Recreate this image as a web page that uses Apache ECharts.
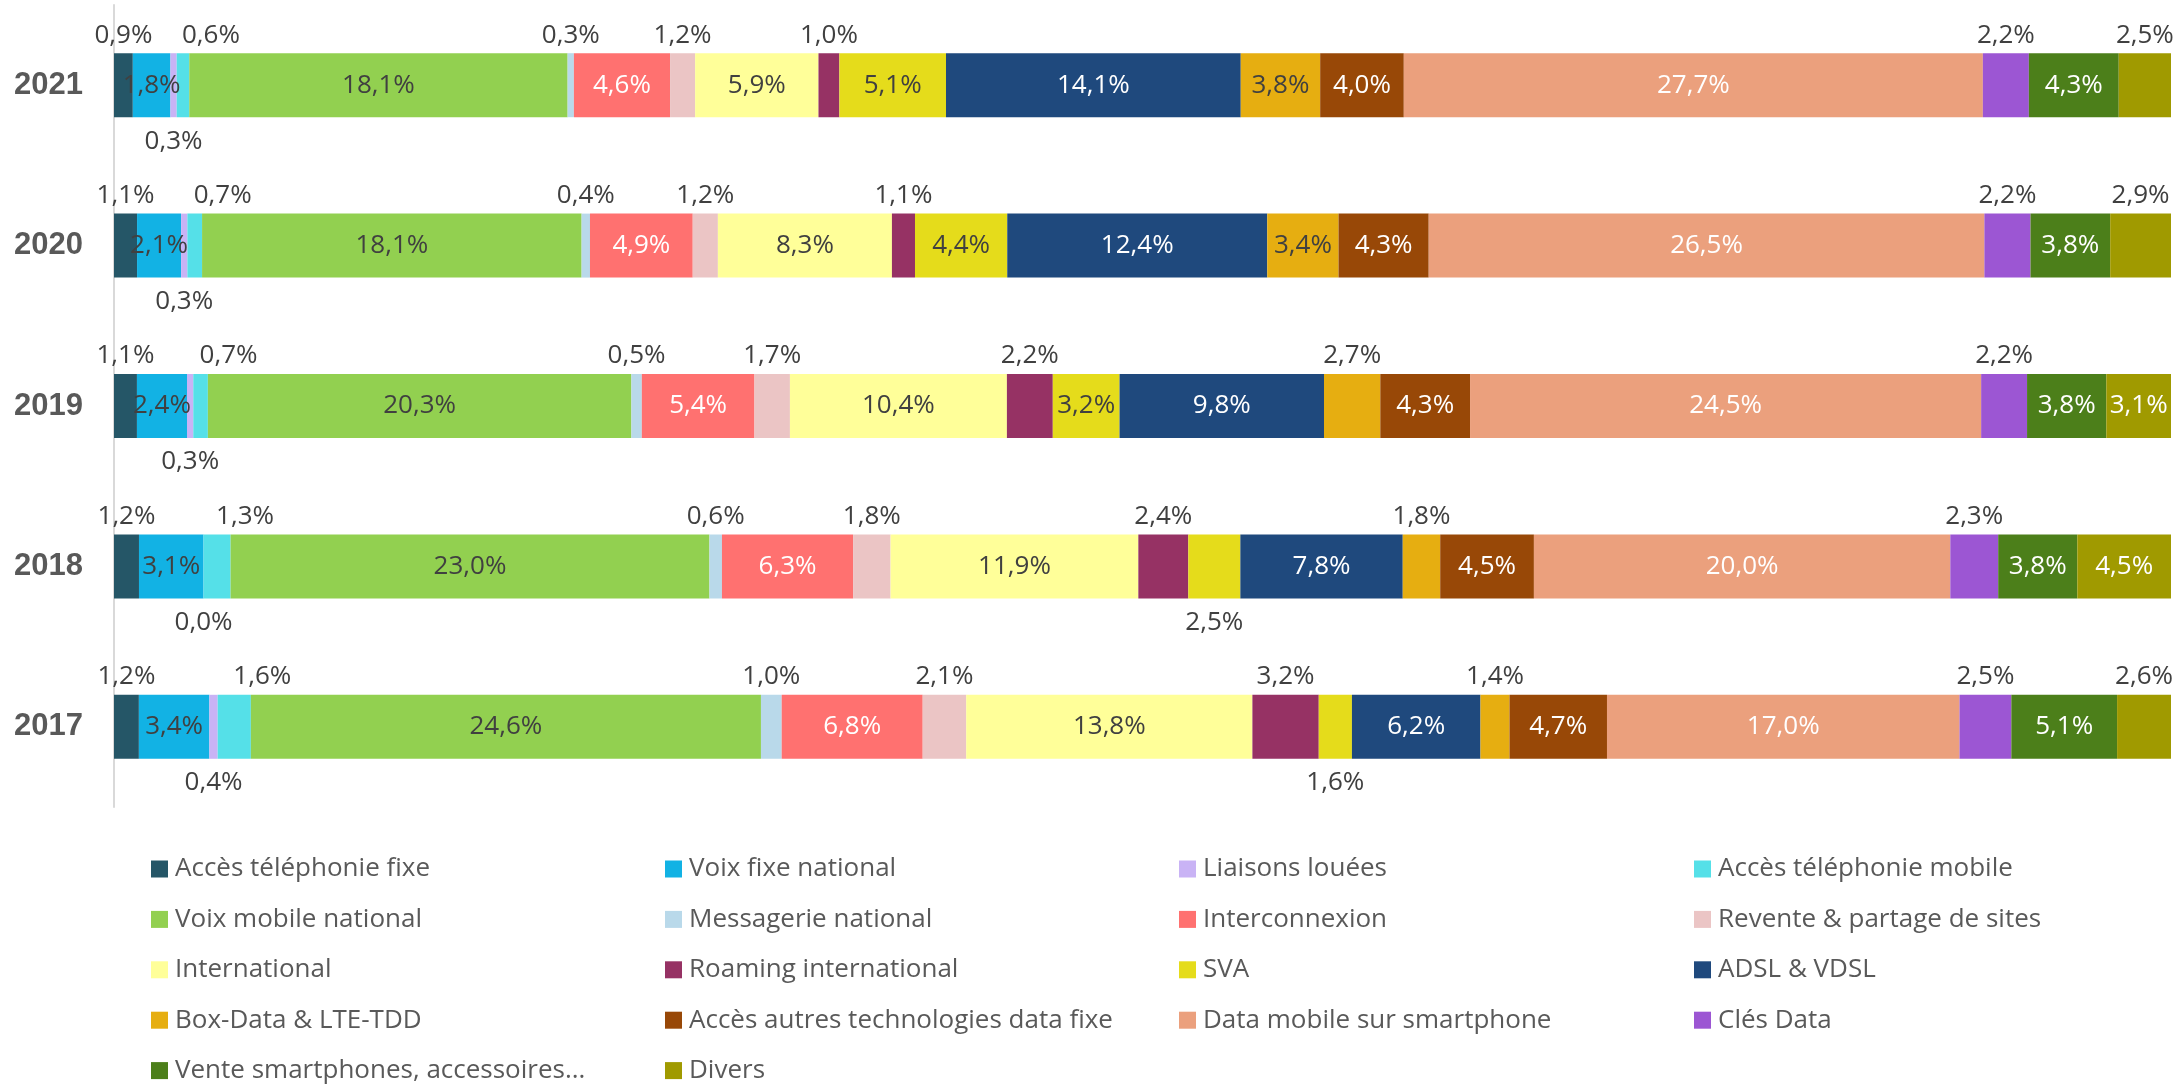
<!DOCTYPE html>
<html>
<head>
<meta charset="utf-8">
<script src="https://cdn.jsdelivr.net/npm/echarts@6/dist/echarts.min.js"></script>
<style>
  html, body { margin: 0; padding: 0; background: #fff; }
  #chart { width: 2179px; height: 1084px; }
</style>
</head>
<body>
<div id="chart"></div>
<script>
// années (de haut en bas)
var years = ['2021', '2020', '2019', '2018', '2017'];

var seriesNames = [
  'Accès téléphonie fixe', 'Voix fixe national', 'Liaisons louées', 'Accès téléphonie mobile',
  'Voix mobile national', 'Messagerie national', 'Interconnexion', 'Revente & partage de sites',
  'International', 'Roaming international', 'SVA', 'ADSL & VDSL',
  'Box-Data & LTE-TDD', 'Accès autres technologies data fixe', 'Data mobile sur smartphone', 'Clés Data',
  'Vente smartphones, accessoires...', 'Divers'
];

// parts en %, dans l'ordre des séries
var v2021 = [0.9, 1.8, 0.3, 0.6, 18.1, 0.3, 4.6, 1.2, 5.9, 1.0, 5.1, 14.1, 3.8, 4.0, 27.7, 2.2, 4.3, 2.5];
var v2020 = [1.1, 2.1, 0.3, 0.7, 18.1, 0.4, 4.9, 1.2, 8.3, 1.1, 4.4, 12.4, 3.4, 4.3, 26.5, 2.2, 3.8, 2.9];
var v2019 = [1.1, 2.4, 0.3, 0.7, 20.3, 0.5, 5.4, 1.7, 10.4, 2.2, 3.2, 9.8, 2.7, 4.3, 24.5, 2.2, 3.8, 3.1];
var v2018 = [1.2, 3.1, 0.0, 1.3, 23.0, 0.6, 6.3, 1.8, 11.9, 2.4, 2.5, 7.8, 1.8, 4.5, 20.0, 2.3, 3.8, 4.5];
var v2017 = [1.2, 3.4, 0.4, 1.6, 24.6, 1.0, 6.8, 2.1, 13.8, 3.2, 1.6, 6.2, 1.4, 4.7, 17.0, 2.5, 5.1, 2.6];
var valuesByYear = [v2021, v2020, v2019, v2018, v2017];

var colors = [
  '#255667', '#12B2E4', '#C9B3F5', '#55E0E8', '#92D050', '#B9D9EA', '#FF7170', '#EBC5C5',
  '#FFFF99', '#963264', '#E5DC1B', '#1F497D', '#E6AE11', '#984807', '#EBA07D', '#9C56D3',
  '#4C7F1A', '#A09A00'
];

// placement des étiquettes : côté hors barre + seuil pour passer à l'intérieur
var labelSide = ['top', 'in', 'bottom', 'top', 'in', 'top', 'in', 'top', 'in', 'top', 'bottom', 'in', 'top', 'in', 'in', 'top', 'in', 'top'];
var insideMin = [99, 0, 99, 99, 0, 99, 0, 99, 0, 99, 3, 0, 3, 0, 0, 99, 0, 3];
var whiteText = [false, false, false, false, false, false, true, false, false, false, false, true, false, true, true, false, true, true];
var labelShift = [0, 0, 0, 28, 0, 0, 0, 0, 0, 0, 0, 0, 0, 0, 0, 0, 0, 0];

var FONT = '"Open Sans", "Noto Sans", sans-serif';

var totals = valuesByYear.map(function (arr) {
  return arr.reduce(function (a, b) { return a + b; }, 0);
});

var series = seriesNames.map(function (name, s) {
  return {
    name: name,
    type: 'bar',
    stack: 'total',
    barWidth: 64,
    itemStyle: { color: colors[s] },
    emphasis: { disabled: true },
    data: valuesByYear.map(function (arr, y) {
      var raw = arr[s];
      var inside = labelSide[s] === 'in' || raw >= insideMin[s];
      return {
        value: raw / totals[y] * 100,
        raw: raw,
        label: {
          show: true,
          position: inside ? 'inside' : labelSide[s],
          distance: labelSide[s] === 'bottom' ? 11 : 5,
          offset: inside ? [0, 0] : [labelShift[s], 0],
          color: inside && whiteText[s] ? '#ffffff' : '#404040'
        }
      };
    }),
    label: {
      show: true,
      fontFamily: FONT,
      fontSize: 26,
      formatter: function (p) {
        return p.data.raw.toFixed(1).replace('.', ',') + '%';
      }
    }
  };
});

// légende sur 4 colonnes
var legendCols = [151, 665, 1179, 1694];
var legends = legendCols.map(function (x, c) {
  var items = seriesNames.filter(function (n, i) { return i % 4 === c; });
  return {
    orient: 'vertical',
    left: x,
    top: 854,
    width: 500,
    height: 300,
    padding: 0,
    itemGap: 20.4,
    itemWidth: 17,
    itemHeight: 17,
    icon: 'rect',
    selectedMode: false,
    data: items,
    textStyle: {
      fontFamily: FONT,
      fontSize: 26,
      color: '#595959',
      lineHeight: 30,
      padding: [0, 0, 0, 2]
    }
  };
});

var chart = echarts.init(document.getElementById('chart'));
chart.setOption({
  animation: false,
  color: colors,
  legend: legends,
  grid: { left: 114, right: 8, top: 5, bottom: 277, containLabel: false },
  xAxis: {
    type: 'value',
    min: 0,
    max: 100,
    show: false
  },
  yAxis: {
    type: 'category',
    inverse: true,
    data: years,
    axisLine: { show: true, lineStyle: { color: '#D9D9D9', width: 2 } },
    axisTick: { show: false },
    axisLabel: {
      margin: 31,
      fontFamily: '"Liberation Sans", Arial, sans-serif',
      fontWeight: 'bold',
      fontSize: 31,
      color: '#595959'
    }
  },
  series: series
});
</script>
</body>
</html>
